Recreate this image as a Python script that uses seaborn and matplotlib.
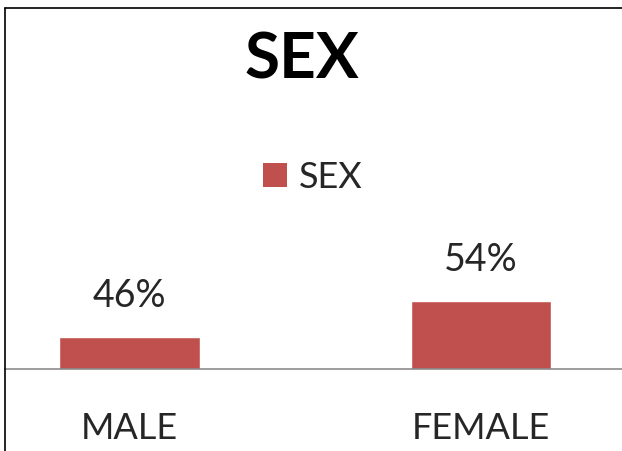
import matplotlib
matplotlib.use('Agg')
import matplotlib.pyplot as plt
import seaborn as sns
import pandas as pd
from matplotlib.lines import Line2D
from matplotlib.patches import Patch

# data
categories = ['MALE', 'FEMALE']
values = [46, 54]
labels = ['46%', '54%']
series_name = 'SEX'

df = pd.DataFrame({'cat': categories, 'val': values})

sns.set_style('white')
plt.rcParams['font.family'] = ['Lato', 'DejaVu Sans']

W, H = 622, 452
fig = plt.figure(figsize=(W / 100, H / 100), dpi=100)
# axes: baseline at y=370px, top at y=100px
ax = fig.add_axes([5 / W, (H - 370) / H, 1 - 5 / W, (370 - 100) / H])

bar_color = '#C0504D'
sns.barplot(data=df, x='cat', y='val', color=bar_color, width=0.4,
            saturation=1, ax=ax)

# y scale: ~4.5 px per unit, baseline ~38.9
ymin = 38.9
ax.set_ylim(ymin, ymin + 270 / 4.5)
ax.set_xlim(-0.354, 1.401)

for i, (v, lab) in enumerate(zip(values, labels)):
    ax.annotate(lab, (i, v), xytext=(0, 22), textcoords='offset points',
                ha='center', va='baseline', fontsize=27, color='#262626')

ax.set_yticks([])
ax.set_xlabel('')
ax.set_ylabel('')
ax.tick_params(axis='x', length=0, pad=30, labelsize=26, labelcolor='#262626')
for s in ['top', 'right', 'left']:
    ax.spines[s].set_visible(False)
ax.spines['bottom'].set_color('#8c8c8c')
ax.spines['bottom'].set_linewidth(1.2)

# title and legend
fig.text(302 / W, 1 - 60 / H, 'SEX', ha='center', va='center',
         fontsize=46, fontweight='bold', color='black')
handle = Patch(facecolor=bar_color, edgecolor='none')
fig.legend([handle], [series_name], loc='center', bbox_to_anchor=(313 / W, 1 - 178 / H),
           frameon=False, fontsize=26, handlelength=0.65, handleheight=0.65,
           handletextpad=0.35, labelcolor='#262626')

# chart border (cropped: only top and left edges visible)
fig.add_artist(Line2D([5 / W, 1], [1 - 9 / H, 1 - 9 / H], color='black', lw=1.2))
fig.add_artist(Line2D([5 / W, 5 / W], [0, 1 - 9 / H], color='black', lw=1.2))

fig.savefig('out.png', dpi=100, facecolor='white')
